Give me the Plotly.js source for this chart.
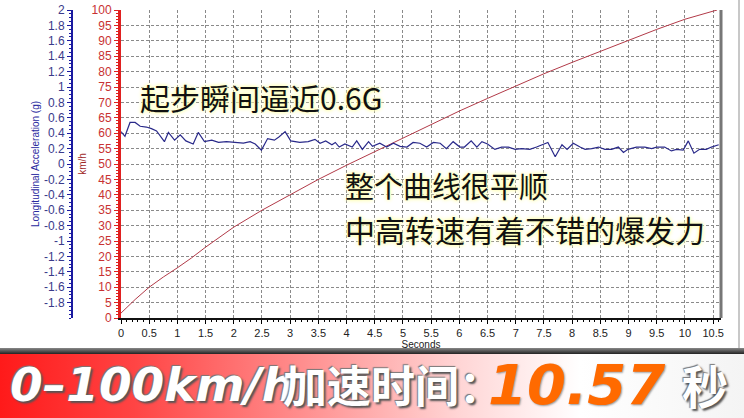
<!DOCTYPE html>
<html>
<head>
<meta charset="utf-8">
<script src="https://cdn.plot.ly/plotly-3.0.1.min.js"></script>
<style>
html,body{margin:0;padding:0;background:#fff;}
#chart{width:744px;height:418px;}
</style>
</head>
<body>
<div id="chart"></div>
<script>
// ---- data ----
const speedT = [0, 0.25, 0.5, 0.75, 1.0, 1.25, 1.5, 2.0, 2.5, 3.0, 3.5, 4.0, 4.5, 5.0, 5.5, 6.0, 6.5, 7.0, 7.5, 8.0, 8.5, 9.0, 9.5, 10.0, 10.57];
const speedV = [1.6, 6, 10, 13.3, 16.3, 19.5, 23, 29.5, 35, 40, 45, 49.6, 54, 58.5, 62.9, 67.2, 71.3, 75.3, 79.3, 83, 86.6, 90.2, 93.7, 97, 100];

const accT = [0,0.07,0.16,0.25,0.34,0.45,0.54,0.63,0.77,0.84,
  0.95,1.05,1.15,1.28,1.37,1.48,1.61,1.73,1.87,2.02,
  2.17,2.29,2.38,2.49,2.60,2.72,2.80,2.91,3.01,3.17,
  3.32,3.44,3.53,3.63,3.74,3.80,3.87,3.97,4.10,4.18,
  4.28,4.39,4.46,4.59,4.71,4.83,4.95,5.07,5.18,5.30,
  5.42,5.54,5.66,5.77,5.89,6.01,6.09,6.21,6.31,6.40,
  6.50,6.63,6.75,6.87,6.99,7.10,7.25,7.37,7.49,7.57,
  7.70,7.82,7.91,8.02,8.14,8.23,8.35,8.47,8.58,8.70,
  8.82,8.91,8.99,9.14,9.29,9.41,9.50,9.64,9.76,9.85,
  9.97,10.06,10.16,10.26,10.38,10.47,10.6];
const accG = [0.42,0.36,0.54,0.54,0.49,0.48,0.46,0.43,0.29,0.41,
  0.31,0.38,0.30,0.26,0.41,0.29,0.31,0.28,0.29,0.28,
  0.27,0.29,0.26,0.18,0.33,0.31,0.35,0.42,0.30,0.28,
  0.29,0.32,0.27,0.30,0.25,0.28,0.22,0.26,0.22,0.30,
  0.19,0.29,0.23,0.27,0.22,0.27,0.23,0.22,0.28,0.27,
  0.22,0.28,0.27,0.20,0.29,0.22,0.22,0.30,0.22,0.29,
  0.26,0.19,0.22,0.22,0.19,0.20,0.19,0.22,0.25,0.28,
  0.095,0.25,0.19,0.27,0.22,0.19,0.20,0.22,0.19,0.19,
  0.22,0.15,0.19,0.22,0.22,0.20,0.22,0.22,0.17,0.19,
  0.18,0.30,0.14,0.19,0.19,0.22,0.25];

const xTicks = [0,0.5,1,1.5,2,2.5,3,3.5,4,4.5,5,5.5,6,6.5,7,7.5,8,8.5,9,9.5,10,10.5];
const xTickLabels = ["0","0.5","1","1.5","2","2.5","3","3.5","4","4.5","5","5.5","6","6.5","7","7.5","8","8.5","9","9.5","10","10.5"];
const kmhTicks = [0,5,10,15,20,25,30,35,40,45,50,55,60,65,70,75,80,85,90,95,100];
const gTicks = [-1.8,-1.6,-1.4,-1.2,-1,-0.8,-0.6,-0.4,-0.2,0,0.2,0.4,0.6,0.8,1,1.2,1.4,1.6,1.8,2];
const gTickLabels = ["-1.8","-1.6","-1.4","-1.2","-1","-0.8","-0.6","-0.4","-0.2","0","0.2","0.4","0.6","0.8","1","1.2","1.4","1.6","1.8","2"];

const note1 = "起步瞬间逼近0.6G";
const note2a = "整个曲线很平顺";
const note2b = "中高转速有着不错的爆发力";
const banner1 = "0–100km/h";
const banner2 = "加速时间：";
const banner3 = "10.57";
const banner4 = "秒";

// ---- layout helpers ----
const W = 744, H = 418;
const px = v => v / W;
const py = v => 1 - v / H;

const svg = `<svg xmlns="http://www.w3.org/2000/svg" width="744" height="70" preserveAspectRatio="none">
<defs>
<linearGradient id="g" x1="0" y1="0" x2="1" y2="0">
<stop offset="0" stop-color="#ff1a1a"/>
<stop offset="0.18" stop-color="#ff4444"/>
<stop offset="0.4" stop-color="#ff8c8c"/>
<stop offset="0.62" stop-color="#ffd6d6"/>
<stop offset="0.78" stop-color="#ffffff"/>
<stop offset="1" stop-color="#f4f4f4"/>
</linearGradient>
<linearGradient id="s" x1="0" y1="0" x2="0" y2="1">
<stop offset="0" stop-color="#888"/>
<stop offset="1" stop-color="#222"/>
</linearGradient>
</defs>
<rect x="0" y="0" width="744" height="6" fill="url(#s)"/>
<rect x="0" y="6" width="744" height="64" fill="url(#g)"/>
</svg>`;
const bannerSrc = "data:image/svg+xml;charset=utf-8," + encodeURIComponent(svg);

const traces = [
  {
    x: speedT, y: speedV, type: 'scatter', mode: 'lines',
    line: {color: '#b23a48', width: 1}, yaxis: 'y', xaxis: 'x',
    hoverinfo: 'skip', showlegend: false
  },
  {
    x: accT, y: accG, type: 'scatter', mode: 'lines',
    line: {color: '#2a2a8a', width: 1.2}, yaxis: 'y2', xaxis: 'x',
    hoverinfo: 'skip', showlegend: false
  }
];

const noteFont = (s) => ({family: 'Noto Sans CJK SC, sans-serif', size: s, color: '#111',
  shadow: '0px 0px 4px #ffffb0, 0px 0px 4px #ffffb0, 0px 0px 2px #ffffd0'});
const whiteBanner = '2px 2px 2px #555, -1px -1px 1px #777';

const layout = {
  width: W, height: H,
  margin: {l: 0, r: 0, t: 0, b: 0},
  paper_bgcolor: '#ffffff',
  plot_bgcolor: '#ffffff',
  showlegend: false,
  font: {family: 'Liberation Sans, Arial, sans-serif', size: 11, color: '#222'},
  xaxis: {
    domain: [px(121), px(721)],
    range: [0, 10.64],
    tickvals: xTicks, ticktext: xTickLabels,
    ticks: 'outside', ticklen: 4, tickcolor: '#000', tickwidth: 1,
    minor: {dtick: 0.1, ticks: 'outside', ticklen: 2, tickcolor: '#000', showgrid: false},
    showline: true, linecolor: '#111', linewidth: 2,
    showgrid: true, gridcolor: '#8a8a8a', gridwidth: 1, griddash: '3px,2px',
    zeroline: false,
    tickfont: {size: 11, color: '#222'},
    title: {text: 'Seconds', font: {size: 10, color: '#222'}, standoff: 2},
    automargin: false
  },
  yaxis: {
    domain: [1 - 318 / H, 1 - 10 / H],
    range: [0, 100],
    tickvals: kmhTicks,
    side: 'left', anchor: 'x',
    ticks: 'outside', ticklen: 4, tickcolor: '#e02020', tickwidth: 1,
    minor: {dtick: 1, ticks: 'outside', ticklen: 2, tickcolor: '#e02020', showgrid: false},
    showline: true, linecolor: '#e02020', linewidth: 3,
    showgrid: true, gridcolor: '#8a8a8a', gridwidth: 1, griddash: '3px,2px',
    zeroline: false,
    tickfont: {size: 12, color: '#c83232'},
    title: {text: 'km/h', font: {size: 10, color: '#a02828'}, standoff: 4},
    automargin: false
  },
  yaxis2: {
    overlaying: 'y', anchor: 'free', position: px(72), side: 'left',
    range: [-2, 2],
    tickvals: gTicks, ticktext: gTickLabels,
    ticks: 'outside', ticklen: 4, tickcolor: '#1a1aa0', tickwidth: 1,
    minor: {dtick: 0.05, ticks: 'outside', ticklen: 2, tickcolor: '#1a1aa0', showgrid: false},
    showline: true, linecolor: '#1a1aa0', linewidth: 2,
    showgrid: false, zeroline: false,
    tickfont: {size: 12, color: '#3a3a8a'},
    title: {text: 'Longitudinal Acceleration (g)', font: {size: 10, color: '#2a2aa0'}, standoff: 1},
    automargin: false
  },
  shapes: [
    {type: 'line', xref: 'x domain', yref: 'y domain', x0: 1, x1: 1, y0: 0, y1: 1,
     line: {color: '#777', width: 3}},
    {type: 'line', xref: 'paper', yref: 'paper', x0: px(739), x1: px(739), y0: py(0), y1: py(348),
     line: {color: '#c8c8c8', width: 2}}
  ],
  images: [
    {source: bannerSrc, xref: 'paper', yref: 'paper', x: 0, y: py(348),
     sizex: 1, sizey: 70 / H, xanchor: 'left', yanchor: 'top', sizing: 'stretch', layer: 'above'}
  ],
  annotations: [
    {text: note1, xref: 'paper', yref: 'paper', x: px(138), y: py(97), xanchor: 'left', yanchor: 'middle',
     showarrow: false, font: noteFont(30)},
    {text: note2a, xref: 'paper', yref: 'paper', x: px(343), y: py(185), xanchor: 'left', yanchor: 'middle',
     showarrow: false, font: noteFont(29)},
    {text: note2b, xref: 'paper', yref: 'paper', x: px(343), y: py(229), xanchor: 'left', yanchor: 'middle',
     showarrow: false, font: noteFont(30)},
    {text: banner1, xref: 'paper', yref: 'paper', x: px(8), y: py(384), xanchor: 'left', yanchor: 'middle',
     showarrow: false,
     font: {family: 'DejaVu Sans, sans-serif', size: 47, weight: 'bold', style: 'italic', color: '#ffffff',
            shadow: whiteBanner}},
    {text: banner2, xref: 'paper', yref: 'paper', x: px(281), y: py(384), xanchor: 'left', yanchor: 'middle',
     showarrow: false,
     font: {family: 'Noto Sans CJK SC, sans-serif', size: 44, weight: 'bold', color: '#ffffff',
            shadow: whiteBanner}},
    {text: banner3, xref: 'paper', yref: 'paper', x: px(486), y: py(384), xanchor: 'left', yanchor: 'middle',
     showarrow: false,
     font: {family: 'DejaVu Sans, sans-serif', size: 56, weight: 'bold', style: 'italic', color: '#ff6a00',
            shadow: '1px 1px 2px #999'}},
    {text: banner4, xref: 'paper', yref: 'paper', x: px(680), y: py(384), xanchor: 'left', yanchor: 'middle',
     showarrow: false,
     font: {family: 'Noto Sans CJK SC, sans-serif', size: 46, weight: 'bold', color: '#ffffff',
            shadow: whiteBanner}}
  ]
};

Plotly.newPlot('chart', traces, layout, {staticPlot: true, displayModeBar: false});
</script>
</body>
</html>
